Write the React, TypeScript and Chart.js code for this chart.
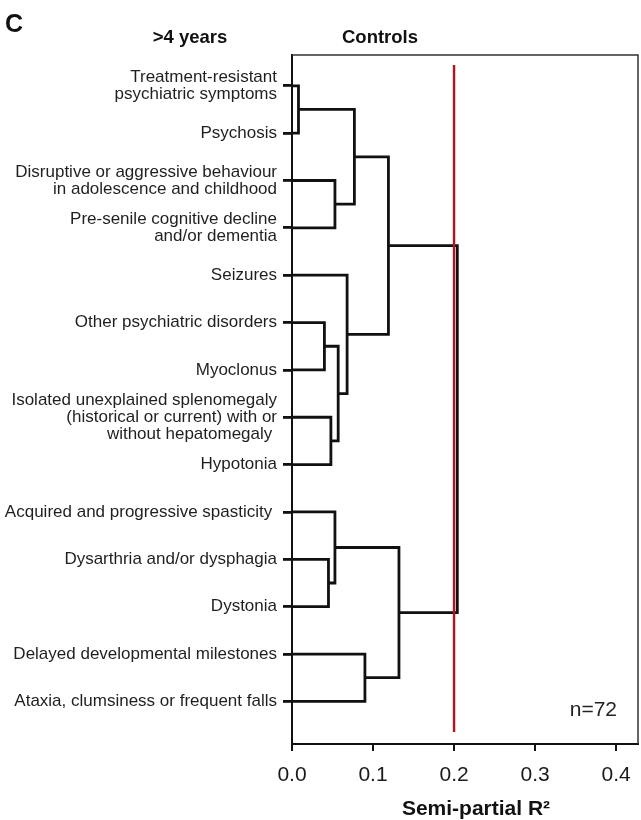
import React, { useEffect, useRef } from "react";
import { Chart, registerables } from "chart.js";
Chart.register(...registerables);

// ---- data ----
const LEAF_LABELS: string[][] = [
  ["Treatment-resistant", "psychiatric symptoms"],
  ["Psychosis"],
  ["Disruptive or aggressive behaviour", "in adolescence and childhood"],
  ["Pre-senile cognitive decline", "and/or dementia"],
  ["Seizures"],
  ["Other psychiatric disorders"],
  ["Myoclonus"],
  ["Isolated unexplained splenomegaly", "(historical or current) with or", "without hepatomegaly "],
  ["Hypotonia"],
  ["Acquired and progressive spasticity "],
  ["Dysarthria and/or dysphagia"],
  ["Dystonia"],
  ["Delayed developmental milestones"],
  ["Ataxia, clumsiness or frequent falls"],
];
// merge k creates node id = LEAF_LABELS.length + k
const MERGE_LEFT = [0, 2, 14, 5, 7, 17, 4, 16, 10, 9, 12, 23, 21];
const MERGE_RIGHT = [1, 3, 15, 6, 8, 18, 19, 20, 11, 22, 13, 24, 25];
const MERGE_HEIGHT = [0.008, 0.053, 0.077, 0.04, 0.048, 0.057, 0.068, 0.119, 0.045, 0.053, 0.09, 0.132, 0.204];
const X_TICKS = [0, 0.1, 0.2, 0.3, 0.4];
const THRESHOLD = 0.2;
const N_TEXT = "n=72";
const PANEL_LETTER = "C";
const LEFT_HEADER = ">4 years";
const RIGHT_HEADER = "Controls";
const X_TITLE = "Semi-partial R\u00B2";

const FONT = "'Liberation Sans', Arial, Helvetica, sans-serif";

function buildSegments() {
  const n = LEAF_LABELS.length;
  const nodeY: number[] = LEAF_LABELS.map((_, i) => i);
  const nodeH: number[] = LEAF_LABELS.map(() => 0);
  const sets: any[] = [];
  MERGE_LEFT.forEach((l, k) => {
    const r = MERGE_RIGHT[k];
    const h = MERGE_HEIGHT[k];
    const pts = [
      { x: nodeH[l], y: nodeY[l] },
      { x: h, y: nodeY[l] },
      { x: h, y: nodeY[r] },
      { x: nodeH[r], y: nodeY[r] },
    ];
    nodeY[n + k] = (nodeY[l] + nodeY[r]) / 2;
    nodeH[n + k] = h;
    sets.push({
      data: pts,
      showLine: true,
      borderColor: "#111",
      borderWidth: 2.8,
      pointRadius: 0,
      borderJoinStyle: "miter",
      borderCapStyle: "butt",
      fill: false,
      tension: 0,
    });
  });
  return sets;
}

const decorPlugin = {
  id: "decor",
  afterDatasetsDraw(chart: any) {
    const { ctx, chartArea, scales } = chart;
    ctx.save();
    // frame top & right
    ctx.strokeStyle = "#333";
    ctx.lineWidth = 1.5;
    ctx.beginPath();
    ctx.moveTo(chartArea.left, chartArea.top);
    ctx.lineTo(chartArea.right, chartArea.top);
    ctx.lineTo(chartArea.right, chartArea.bottom);
    ctx.stroke();
    // threshold line
    const tx = scales.x.getPixelForValue(THRESHOLD);
    ctx.strokeStyle = "#b5121b";
    ctx.lineWidth = 2.4;
    ctx.beginPath();
    ctx.moveTo(tx, chartArea.top + 10);
    ctx.lineTo(tx, chartArea.bottom - 12);
    ctx.stroke();
    // texts
    ctx.fillStyle = "#111";
    ctx.textBaseline = "alphabetic";
    ctx.font = `bold 25px ${FONT}`;
    ctx.textAlign = "left";
    ctx.fillText(PANEL_LETTER, 5, 32);
    ctx.font = `bold 18.5px ${FONT}`;
    ctx.textAlign = "center";
    ctx.fillText(LEFT_HEADER, 190, 43);
    ctx.fillText(RIGHT_HEADER, 380, 43);
    ctx.font = `21px ${FONT}`;
    ctx.fillStyle = "#222";
    ctx.textAlign = "right";
    ctx.fillText(N_TEXT, 617, 716);
    ctx.font = `bold 21px ${FONT}`;
    ctx.fillStyle = "#111";
    ctx.textAlign = "center";
    ctx.textBaseline = "middle";
    ctx.fillText(X_TITLE, 476, 809);
    ctx.restore();
  },
};

export default function App() {
  const ref = useRef<HTMLCanvasElement>(null);
  useEffect(() => {
    if (!ref.current) return;
    const chart = new Chart(ref.current, {
      type: "scatter",
      data: { datasets: buildSegments() },
      options: {
        animation: false,
        responsive: false,
        maintainAspectRatio: false,
        devicePixelRatio: 1,
        layout: { padding: { top: 55, right: 3, left: 0, bottom: 0 } },
        plugins: { legend: { display: false }, tooltip: { enabled: false } },
        scales: {
          x: {
            type: "linear",
            min: 0,
            max: 0.427,
            afterFit: (s: any) => {
              s.height = 76;
              s.paddingLeft = 0;
              s.paddingRight = 0;
            },
            afterBuildTicks: (s: any) => {
              s.ticks = X_TICKS.map((v) => ({ value: v }));
            },
            ticks: {
              callback: (v: any) => Number(v).toFixed(1),
              font: { family: FONT, size: 21 },
              color: "#1a1a1a",
              padding: 12,
              maxRotation: 0,
              autoSkip: false,
            },
            grid: {
              drawOnChartArea: false,
              drawTicks: true,
              tickLength: 7,
              color: "#111",
              lineWidth: 2,
            },
            border: { display: true, color: "#111", width: 2 },
            title: { display: false },
          },
          y: {
            type: "linear",
            min: -0.65,
            max: 13.9,
            reverse: true,
            afterFit: (s: any) => {
              s.width = 292;
              s.paddingTop = 0;
              s.paddingBottom = 0;
            },
            afterBuildTicks: (s: any) => {
              s.ticks = LEAF_LABELS.map((_, i) => ({ value: i }));
            },
            ticks: {
              callback: (v: any) => LEAF_LABELS[Number(v)],
              font: { family: FONT, size: 17, lineHeight: 1.0 },
              color: "#1f1f1f",
              padding: 6,
              autoSkip: false,
            },
            grid: {
              drawOnChartArea: false,
              drawTicks: true,
              tickLength: 9,
              color: "#111",
              lineWidth: 2.8,
            },
            border: { display: true, color: "#111", width: 2 },
          },
        },
      },
      plugins: [decorPlugin],
    });
    return () => chart.destroy();
  }, []);
  return (
    <div style={{ position: "absolute", left: 0, top: 0, width: 641, height: 820, background: "#fff" }}>
      <canvas ref={ref} width={641} height={820} style={{ display: "block" }} />
    </div>
  );
}
